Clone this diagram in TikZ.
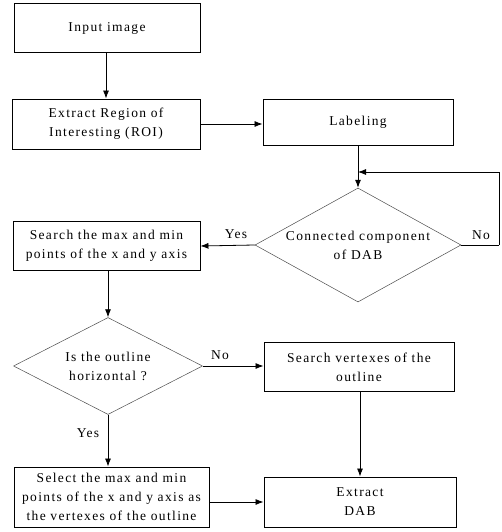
\documentclass[tikz,border=0pt]{standalone}
\usepackage{fontspec}
\setmainfont[LetterSpace=10]{Liberation Serif}
\usetikzlibrary{shapes.geometric,arrows.meta}
\begin{document}
\begin{tikzpicture}[x=1pt,y=-1pt,
  every node/.style={font=\fontsize{13.5}{19}\selectfont, align=center},
  box/.style={draw, line width=0.9pt, rectangle, inner sep=0pt},
  dia/.style={draw=black!70, line width=0.5pt, diamond, inner sep=0pt},
  arr/.style={-{Latex[length=8pt,width=6pt]}, line width=0.8pt},
  lbl/.style={inner sep=0pt}]
\useasboundingbox (0,0) rectangle (501,532);
\node[box, minimum width=186pt, minimum height=49pt] (in) at (107,28) {Input image};
\node[box, minimum width=188pt, minimum height=50pt] (roi) at (106,124) {Extract Region of\\Interesting (ROI)};
\node[box, minimum width=190pt, minimum height=46pt] (lab) at (358,122) {Labeling};
\node[dia, aspect=1.8, minimum width=206pt, minimum height=114pt] (d1) at (358,245) {Connected component\\of DAB};
\node[box, minimum width=187pt, minimum height=49pt] (srch) at (106.5,246) {Search the max and min\\points of the x and y axis};
\node[dia, aspect=1.95, minimum width=189pt, minimum height=97pt] (d2) at (108,366) {Is the outline\\horizontal ?};
\node[box, minimum width=190pt, minimum height=49pt] (sv) at (359,367) {Search vertexes of the\\outline};
\node[box, minimum width=195pt, minimum height=60pt] (sel) at (111.5,497) {Select the max and min\\points of the x and y axis as\\the vertexes of the outline};
\node[box, minimum width=192pt, minimum height=50pt] (ext) at (360,502) {Extract\\DAB};
\coordinate (loopR) at (499,245);
\coordinate (loopT) at (358,172);
\draw[arr] (in.south -| roi.north) -- (roi.north);
\draw[arr] (roi.east) -- (roi.east -| lab.west);
\draw[arr] (lab.south) -- (d1.north);
\draw[line width=0.8pt] (d1.east) -- (loopR);
\draw[arr] (loopR) |- (loopT);
\node[lbl] at (481,235) {No};
\draw[arr] (d1.west) -- (srch.east);
\node[lbl] at (236,234) {Yes};
\draw[arr] (srch.south -| d2.north) -- (d2.north);
\draw[arr] (d2.east) -- (d2.east -| sv.west);
\node[lbl] at (220,355) {No};
\draw[arr] (sv.south -| ext.north) -- (ext.north);
\draw[arr] (d2.south) -- (d2.south |- sel.north);
\node[lbl] at (88,433) {Yes};
\draw[arr] (ext.west -| sel.east) -- (ext.west);
\end{tikzpicture}
\end{document}
